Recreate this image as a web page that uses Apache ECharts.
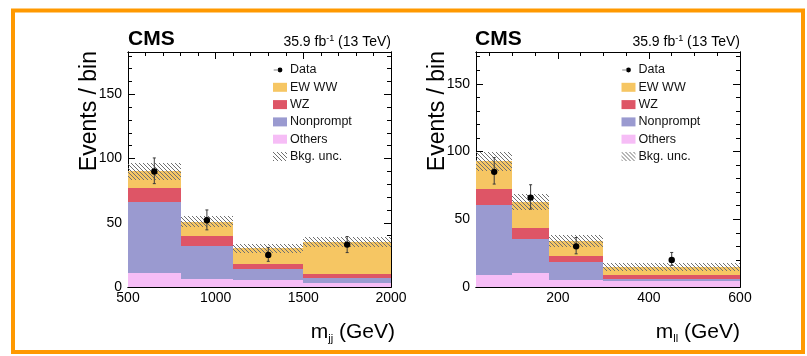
<!DOCTYPE html>
<html>
<head>
<meta charset="utf-8">
<script src="https://cdn.jsdelivr.net/npm/echarts@6/dist/echarts.min.js"></script>
<style>
  html, body { margin: 0; padding: 0; background: #fff; }
  #chart { width: 807px; height: 356px; }
</style>
</head>
<body>
<div id="chart"></div>
<script>
// ---- m_jj distribution (left panel), events per bin ----
const mjjEdges = [500, 800, 1100, 1500, 2000];
const mjjOthers = [11.1, 5.9, 5.3, 2.8];
const mjjNonprompt = [55.3, 26.0, 8.7, 4.4];
const mjjWZ = [10.4, 7.8, 4.0, 2.8];
const mjjEWWW = [13.2, 11.3, 12.0, 25.0];
const mjjBkgUnc = [6.3, 4.5, 3.3, 4.0];
const mjjData = [90, 52, 25, 33];
const mjjDataErrUp = [10.5, 8.0, 5.8, 6.3];
const mjjDataErrDn = [9.5, 7.5, 5.0, 6.2];
const mjjTicks = [500, 1000, 1500, 2000];

// ---- m_ll distribution (right panel), events per bin ----
const mllEdges = [20, 100, 180, 300, 600];
const mllOthers = [9.2, 10.0, 5.0, 4.6];
const mllNonprompt = [51.7, 25.6, 13.6, 1.4];
const mllWZ = [11.6, 8.1, 4.1, 2.7];
const mllEWWW = [20.5, 19.3, 11.3, 6.3];
const mllBkgUnc = [7.0, 6.0, 4.5, 3.0];
const mllData = [85, 66, 30, 20];
const mllDataErrUp = [10.5, 9.5, 6.5, 5.5];
const mllDataErrDn = [9.0, 8.5, 5.5, 4.0];
const mllTicks = [200, 400, 600];

const eventTicks = [0, 50, 100, 150];

const FONT = '"Liberation Sans", Arial, Helvetica, sans-serif';
const COLORS = {
  'EW WW': '#F6C663',
  'WZ': '#DE5566',
  'Nonprompt': '#9A9AD0',
  'Others': '#F6BDF6'
};

// diagonal hatch used for the background uncertainty band
function makeHatch() {
  const c = document.createElement('canvas');
  c.width = 4; c.height = 4;
  const g = c.getContext('2d');
  g.strokeStyle = '#707070';
  g.lineWidth = 1;
  g.beginPath();
  g.moveTo(-1, -1); g.lineTo(5, 5);
  g.moveTo(-1, 3); g.lineTo(1, 5);
  g.moveTo(3, -1); g.lineTo(5, 1);
  g.stroke();
  return c;
}
const hatch = { image: makeHatch(), repeat: 'repeat' };

function minorBetween(min, max, step, majors) {
  const out = [];
  for (let v = Math.ceil(min / step) * step; v <= max; v += step) {
    if (v > min && v < max && majors.indexOf(v) < 0) out.push(v);
  }
  return out;
}

function valueAxis(gridIndex, position, min, max, ticks, len, labels) {
  return {
    type: 'value', gridIndex, position, min, max,
    axisLine: { show: true, onZero: false, lineStyle: { color: '#000', width: 1 } },
    axisTick: { show: true, inside: true, length: len, customValues: ticks,
                lineStyle: { color: '#000', width: 1 } },
    axisLabel: labels ? {
      show: true, customValues: ticks, fontSize: 14, fontFamily: FONT, color: '#000',
      margin: (position === 'left') ? 6 : 4,
      formatter: (v) => String(v)
    } : { show: false },
    splitLine: { show: false }
  };
}

const xAxes = [], yAxes = [], series = [], grids = [];

// pixel-snapped bin rectangle so stacked fills meet without seams
function snappedShape(api) {
  const p0 = api.coord([api.value(0), api.value(2)]);
  const p1 = api.coord([api.value(1), api.value(3)]);
  const x0 = Math.round(p0[0]), x1 = Math.round(p1[0]);
  const yb = Math.round(p0[1]), yt = Math.round(p1[1]);
  return { x: x0, y: yt, width: x1 - x0, height: yb - yt };
}
function binRect(params, api) {
  return { type: 'rect', shape: snappedShape(api), style: { fill: api.visual('color') } };
}
function hatchRect(params, api) {
  return { type: 'rect', shape: snappedShape(api), style: { fill: hatch } };
}
function dataPoint(params, api) {
  const x = api.value(0), y = api.value(1);
  const c = api.coord([x, y]);
  const cu = api.coord([x, y + api.value(2)]);
  const cd = api.coord([x, y - api.value(3)]);
  const ls = { stroke: '#3a3a3a', lineWidth: 1 };
  return {
    type: 'group',
    children: [
      { type: 'line', shape: { x1: c[0], y1: cu[1], x2: c[0], y2: cd[1] }, style: ls },
      { type: 'line', shape: { x1: c[0] - 1.5, y1: cu[1], x2: c[0] + 1.5, y2: cu[1] }, style: ls },
      { type: 'line', shape: { x1: c[0] - 1.5, y1: cd[1], x2: c[0] + 1.5, y2: cd[1] }, style: ls },
      { type: 'circle', shape: { cx: c[0], cy: c[1], r: 3.2 }, style: { fill: '#000' } }
    ]
  };
}

function addPanel(g, rect, xr, xMajor, xMinorStep, yMax, d) {
  grids.push({ left: rect[0], top: rect[1], width: rect[2], height: rect[3],
               containLabel: false, outerBoundsMode: 'none' });
  const xMinor = minorBetween(xr[0], xr[1], xMinorStep, xMajor);
  const yMinor = minorBetween(0, yMax, 10, eventTicks);
  const xi = xAxes.length, yi = yAxes.length;
  xAxes.push(valueAxis(g, 'bottom', xr[0], xr[1], xMajor, 7, true));
  xAxes.push(valueAxis(g, 'bottom', xr[0], xr[1], xMinor, 4, false));
  xAxes.push(valueAxis(g, 'top', xr[0], xr[1], xMajor, 7, false));
  xAxes.push(valueAxis(g, 'top', xr[0], xr[1], xMinor, 4, false));
  yAxes.push(valueAxis(g, 'left', 0, yMax, eventTicks, 7, true));
  yAxes.push(valueAxis(g, 'left', 0, yMax, yMinor, 4, false));
  yAxes.push(valueAxis(g, 'right', 0, yMax, eventTicks, 7, false));
  yAxes.push(valueAxis(g, 'right', 0, yMax, yMinor, 4, false));

  // stacked backgrounds, bottom to top
  const layers = [['Others', d.others], ['Nonprompt', d.nonprompt], ['WZ', d.wz], ['EW WW', d.ewww]];
  const base = d.edges.slice(1).map(() => 0);
  layers.forEach(([name, vals]) => {
    const rows = vals.map((v, i) => {
      const r = [d.edges[i], d.edges[i + 1], base[i], base[i] + v];
      base[i] += v;
      return r;
    });
    series.push({
      type: 'custom', name, xAxisIndex: xi, yAxisIndex: yi, clip: true,
      itemStyle: { color: COLORS[name] },
      encode: { x: [0, 1], y: [2, 3] },
      renderItem: binRect, data: rows
    });
  });
  // uncertainty band around the stacked total
  series.push({
    type: 'custom', name: 'Bkg. unc.', xAxisIndex: xi, yAxisIndex: yi, clip: true,
    itemStyle: { color: hatch },
    encode: { x: [0, 1], y: [2, 3] },
    renderItem: hatchRect,
    data: d.unc.map((u, i) => [d.edges[i], d.edges[i + 1], base[i] - u, base[i] + u])
  });
  // observed events with error bars at bin centres
  series.push({
    type: 'custom', name: 'Data', xAxisIndex: xi, yAxisIndex: yi, clip: false,
    itemStyle: { color: '#000' },
    encode: { x: 0, y: 1 },
    renderItem: dataPoint,
    data: d.data.map((v, i) => [(d.edges[i] + d.edges[i + 1]) / 2, v, d.up[i], d.dn[i]])
  });
}

addPanel(0, [128, 52, 263, 235], [500, 2000], mjjTicks, 100, 183, {
  edges: mjjEdges, others: mjjOthers, nonprompt: mjjNonprompt, wz: mjjWZ, ewww: mjjEWWW,
  unc: mjjBkgUnc, data: mjjData, up: mjjDataErrUp, dn: mjjDataErrDn
});
addPanel(1, [476, 52, 264, 235], [20, 600], mllTicks, 50, 173.5, {
  edges: mllEdges, others: mllOthers, nonprompt: mllNonprompt, wz: mllWZ, ewww: mllEWWW,
  unc: mllBkgUnc, data: mllData, up: mllDataErrUp, dn: mllDataErrDn
});

const dataIcon = 'path://M0 0 L0.01 0 L0.01 0.01 Z M14 10 L13.99 10 L13.99 9.99 Z ' +
  'M0 4.6 L5 4.6 L5 5.4 L0 5.4 Z M4.3 5 A2.7 2.7 0 1 0 9.7 5 A2.7 2.7 0 1 0 4.3 5 Z';

function legendAt(left) {
  return {
    left, top: 63.5, orient: 'vertical', padding: 0,
    itemWidth: 14, itemHeight: 9, itemGap: 4.3, selectedMode: false,
    textStyle: { fontSize: 12.5, lineHeight: 12, fontFamily: FONT, color: '#111', padding: [0, 0, 0, -2] },
    data: [
      { name: 'Data', icon: dataIcon, itemStyle: { color: '#000' } },
      { name: 'EW WW', icon: 'rect', itemStyle: { color: COLORS['EW WW'] } },
      { name: 'WZ', icon: 'rect', itemStyle: { color: COLORS['WZ'] } },
      { name: 'Nonprompt', icon: 'rect', itemStyle: { color: COLORS['Nonprompt'] } },
      { name: 'Others', icon: 'rect', itemStyle: { color: COLORS['Others'] } },
      { name: 'Bkg. unc.', icon: 'rect', itemStyle: { color: hatch } }
    ]
  };
}

function label(x, y, text, opts) {
  return {
    type: 'text', x, y, silent: true, z: 50,
    style: Object.assign({ text, fill: '#000', font: '14px ' + FONT }, opts || {})
  };
}
const lumiRich = {
  m: { fontSize: 14, fontFamily: FONT, lineHeight: 16, fill: '#000' },
  s: { fontSize: 9, fontFamily: FONT, lineHeight: 8, verticalAlign: 'top', fill: '#000' }
};
const axisRich = {
  m: { fontSize: 21, fontFamily: FONT, lineHeight: 24, fill: '#000' },
  s: { fontSize: 11, fontFamily: FONT, lineHeight: 12, verticalAlign: 'bottom', fill: '#000' }
};
function panelTexts(plotLeft, plotRight, yTitleX, xTitleRight, sub) {
  return [
    label(plotLeft, 39.4, 'CMS', { font: 'bold 21px ' + FONT, textVerticalAlign: 'middle', verticalAlign: 'middle' }),
    label(plotRight, 41.8, '{m|35.9 fb}{s|-1}{m| (13 TeV)}', {
      rich: lumiRich, textAlign: 'right', align: 'right', textVerticalAlign: 'middle', verticalAlign: 'middle'
    }),
    Object.assign(label(yTitleX, 51, 'Events / bin', {
      font: '23px ' + FONT, textAlign: 'right', align: 'right', textVerticalAlign: 'middle', verticalAlign: 'middle'
    }), { rotation: Math.PI / 2 }),
    label(xTitleRight, 332, '{m|m}{s|' + sub + '}{m| (GeV)}', {
      rich: axisRich, textAlign: 'right', align: 'right', textVerticalAlign: 'middle', verticalAlign: 'middle'
    })
  ];
}

const option = {
  animation: false,
  backgroundColor: '#fff',
  textStyle: { fontFamily: FONT },
  grid: grids,
  xAxis: xAxes,
  yAxis: yAxes,
  legend: [legendAt(273), legendAt(621.5)],
  series,
  graphic: [
    { type: 'rect', silent: true, z: 100,
      shape: { x: 13, y: 10.5, width: 790, height: 341.5 },
      style: { fill: 'none', stroke: '#FF9900', lineWidth: 4 } }
  ].concat(panelTexts(128, 391, 90, 395, 'jj'), panelTexts(475, 740, 437.5, 740, 'll'))
};

const chart = echarts.init(document.getElementById('chart'), null, { renderer: 'canvas' });
chart.setOption(option);
</script>
</body>
</html>
